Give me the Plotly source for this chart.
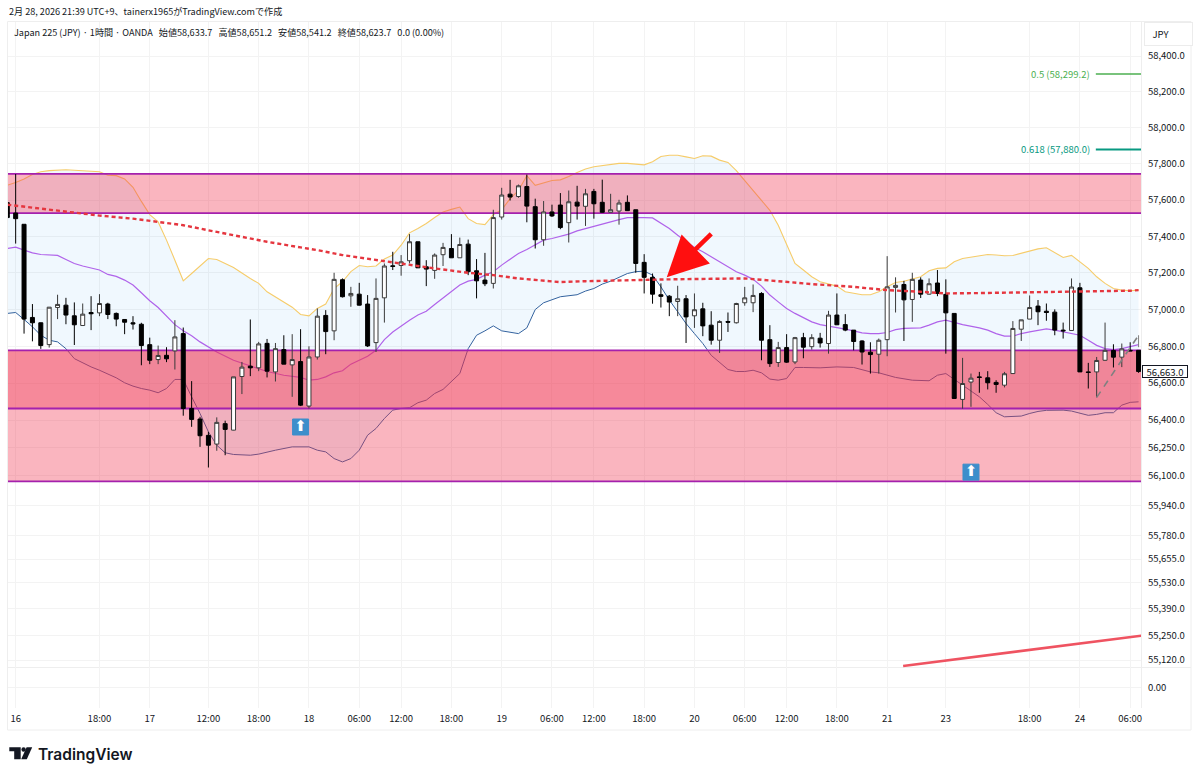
import math
import plotly.graph_objects as go

# ---------- chart values ----------
candle_open = [57586,57529,57467,56957,56928,56809,57011,57024,56966,56913,56984,56982,57030,56979,56946,56928,56920,56809,56728,56751,56775,56869,56463,56406,56318,56271,56381,56346,56636,56692,56683,56816,56661,56782,56699,56717,56476,56742,56968,56884,57163,57075,57084,57030,56820,57064,57239,57241,57267,57371,57234,57214,57300,57334,57283,57358,57212,57161,57143,57507,57633,57620,57675,57564,57382,57535,57573,57476,57589,57566,57648,57588,57533,57540,57588,57547,57258,57176,57081,57073,57044,57059,56966,57004,56915,56833,56935,56928,57037,57037,57088,56836,56712,56793,56715,56847,56798,56844,56815,56970,56918,56888,56829,56768,56757,56836,57121,57137,57055,57161,57084,57145,57083,56979,56512,56606,56634,56629,56604,56589,56652,56893,56948,57019,56991,56986,56888,56886,57119,56661,56661,56724,56777,56741,56778,56778]
candle_high = [57590,57744,57467,57030,56929,57013,57081,57064,57039,57033,57073,57084,57037,56984,56948,56964,56928,56847,56804,56795,56942,56902,56611,56418,56337,56415,56397,56634,56715,56946,56824,56840,56818,56860,56866,56893,56800,57006,56997,57201,57170,57124,57146,57079,57170,57252,57316,57298,57413,57371,57270,57307,57365,57413,57394,57383,57276,57310,57547,57668,57712,57686,57741,57608,57595,57575,57639,57653,57679,57662,57662,57713,57635,57602,57626,57547,57303,57197,57143,57079,57130,57079,57088,57037,56991,56942,56984,57037,57124,57137,57095,56915,56824,56866,56851,56873,56866,56873,56993,57088,56975,56888,56833,56822,56842,57292,57176,57157,57201,57176,57170,57216,57165,56979,56737,56652,56661,56665,56616,56661,56937,56944,57077,57052,57033,57001,56929,57170,57146,56710,56742,56929,56811,56815,56822,56778]
candle_low = [57500,57361,56869,56827,56786,56793,56948,56920,56807,56911,56888,56964,56948,56909,56866,56891,56697,56703,56703,56714,56674,56424,56364,56256,56145,56235,56211,56345,56541,56638,56665,56631,56609,56703,56526,56476,56463,56728,56757,56833,57066,57015,57022,56796,56769,56929,57216,57185,57252,57228,57128,57168,57238,57283,57283,57188,57061,57128,57115,57493,57598,57613,57478,57334,57349,57507,57440,57367,57493,57458,57498,57531,57533,57465,57540,57201,57088,57032,57011,56964,56964,56818,56900,56855,56809,56764,56878,56924,57021,56986,56724,56688,56688,56710,56703,56735,56782,56793,56760,56917,56882,56778,56701,56652,56652,56746,56984,56829,56933,57063,57081,57073,56760,56517,56462,56472,56548,56566,56548,56577,56652,56829,56948,56915,56939,56860,56842,56884,56661,56571,56523,56721,56685,56687,56775,56656]
candle_close = [57504,57498,56948,56928,56804,57013,57028,56970,56917,56975,56977,57033,56973,56948,56931,56922,56804,56724,56750,56732,56851,56463,56404,56316,56265,56388,56350,56634,56687,56683,56813,56665,56787,56703,56728,56481,56742,56964,56880,57165,57070,57088,57024,56802,57061,57238,57236,57261,57371,57228,57221,57298,57340,57283,57356,57207,57157,57141,57504,57628,57617,57679,57567,57382,57535,57513,57449,57591,57567,57635,57580,57533,57547,57584,57542,57252,57176,57084,57072,57041,57059,56960,56999,56911,56833,56935,56931,57033,57064,57077,56833,56706,56793,56714,56847,56795,56847,56818,56970,56917,56888,56826,56769,56755,56833,57124,57132,57053,57165,57084,57141,57088,56982,56517,56598,56627,56631,56602,56593,56651,56897,56944,57011,56988,56984,56888,56884,57123,56661,56658,56723,56778,56741,56786,56775,56663]
candle_index = list(range(-1, 135))

upper_x = [-1,0,1,2,3,4,6,8,10,11,12,13,14,15,16,17,18,19,20,21,22,23,24,26,28,29,30,32,33,34,35,36,37,38,39,40,41,42,43,44,45,46,47,48,49,50,51,52,53,54,55,56,57,58,59,60,61,62,63,64,65,66,67,68,69,70,71,72,73,74,75,76,77,78,79,80,81,82,83,84,85,86,87,88,89,90,91,92,93,94,95,96,97,98,99,100,101,102,103,104,105,106,107,108,109,110,111,112,113,115,116,117,118,119,120,121,122,123,124,125,126,127,128,129,130,131,132,133,134]
upper_y = [57682,57697,57717,57741,57757,57763,57768,57763,57757,57737,57735,57717,57671,57593,57520,57480,57380,57270,57157,57197,57238,57279,57274,57230,57170,57143,57097,57042,57013,56973,56966,57006,57030,57115,57152,57207,57241,57234,57238,57276,57298,57352,57420,57444,57471,57504,57535,57549,57562,57498,57471,57465,57520,57547,57608,57653,57735,57682,57693,57708,57712,57730,57753,57772,57784,57790,57797,57803,57803,57799,57795,57812,57841,57848,57848,57839,57830,57845,57843,57821,57808,57763,57708,57653,57602,57544,57462,57352,57252,57216,57179,57152,57139,57128,57097,57088,57081,57081,57097,57124,57148,57155,57168,57179,57212,57225,57228,57261,57279,57296,57301,57298,57294,57296,57307,57321,57332,57338,57312,57285,57296,57261,57225,57179,57143,57115,57106,57103,57106]

mid_x = [-1,0,1,2,3,4,5,6,7,8,10,11,12,13,14,15,16,17,18,19,20,21,22,23,24,26,28,30,32,34,35,36,37,38,39,40,41,42,43,44,45,46,47,48,49,50,51,52,53,54,55,56,57,58,59,60,61,62,63,64,65,66,67,68,69,70,71,72,73,74,75,76,77,78,79,80,81,82,83,84,85,86,87,88,89,90,91,92,93,94,95,96,97,98,99,100,101,102,103,104,105,106,107,108,109,110,111,112,113,115,116,117,118,119,120,121,122,123,124,125,126,127,128,129,130,131,132,133,134]
mid_y = [57334,57341,57325,57310,57301,57300,57296,57274,57252,57238,57216,57192,57181,57161,57134,57092,57048,57011,56966,56918,56884,56857,56824,56796,56769,56724,56694,56663,56643,56631,56616,56620,56634,56656,56667,56703,56724,56746,56778,56836,56878,56911,56942,56970,56991,57028,57064,57097,57134,57155,57165,57188,57207,57243,57274,57307,57329,57356,57380,57389,57402,57413,57431,57444,57456,57471,57480,57493,57504,57505,57504,57502,57471,57444,57407,57371,57340,57316,57289,57261,57234,57207,57188,57165,57128,57079,57042,57006,56979,56955,56933,56918,56911,56900,56893,56884,56873,56869,56869,56875,56891,56897,56898,56900,56915,56933,56942,56929,56918,56900,56888,56869,56855,56855,56869,56878,56888,56895,56888,56878,56869,56860,56833,56805,56787,56782,56787,56800,56809]

lower_x = [-1,0,1,2,3,4,5,6,7,8,9,10,11,12,13,14,15,16,17,18,19,20,21,22,23,24,25,26,28,29,31,32,33,35,36,37,38,39,40,41,42,43,44,45,46,47,48,49,50,51,52,53,54,55,56,57,58,59,60,61,62,63,64,65,67,68,69,70,71,72,73,74,75,76,77,78,79,80,81,82,83,84,85,86,87,88,89,90,91,92,93,94,96,98,100,102,103,105,107,109,110,111,112,113,115,116,117,118,119,120,121,122,123,125,126,127,128,129,130,131,132,133,134]
lower_y = [56979,56984,56946,56906,56860,56833,56824,56787,56733,56710,56688,56670,56649,56629,56602,56584,56571,56562,56548,56571,56620,56620,56526,56436,56337,56265,56224,56215,56211,56217,56238,56247,56256,56256,56238,56229,56193,56175,56193,56238,56319,56355,56409,56454,56463,56467,56494,56508,56544,56566,56607,56652,56787,56860,56884,56911,56884,56877,56869,56900,57000,57037,57052,57070,57081,57101,57115,57139,57155,57176,57197,57207,57210,57188,57124,57052,56988,56924,56869,56815,56751,56715,56674,56663,56663,56670,56656,56622,56616,56625,56685,56685,56683,56688,56685,56661,56656,56631,56616,56613,56643,56652,56620,56586,56526,56485,56440,56418,56418,56422,56436,56447,56453,56454,56449,56436,56426,56431,56440,56440,56481,56496,56499]

ma_x = [-1,2,7,10,14,17,20,23,26,30,34,36,39,43,46,50,54,57,60,63,65,68,71,78,83,87,91,95,100,103,104,108,111,115,121,127,133,134]
ma_y = [57575,57558,57531,57515,57498,57480,57462,57434,57407,57371,57340,57325,57298,57270,57252,57225,57201,57188,57170,57157,57150,57155,57159,57165,57168,57170,57155,57139,57124,57112,57106,57097,57088,57090,57093,57097,57103,57106]

zone_top = [57745, 56778, 56778]
zone_bottom = [57529, 56070, 56463]
zone_lines = [57745, 57529, 56778, 56463, 56070]

fib_levels = [58299.2, 57880.0]
fib_labels = ["0.5 (58,299.2)", "0.618 (57,880.0)"]
fib_colors = ["#4caf50", "#089981"]
fib_x = [128.9, 134.3]

trend_x = [105.9, 134.3]
trend_y = [55089, 55248]
path_x = [129, 134, 134]
path_y = [56523, 56860, 56795]
signal_x = [34, 114]
signal_y = [56363, 56120]
arrow_tip = (77.7, 57176)

price_ticks = [58400,58200,58000,57800,57600,57400,57200,57000,56800,56600,56400,56250,56100,55940,55780,55655,55530,55390,55250,55120,54973]
price_labels = ["58,400.0","58,200.0","58,000.0","57,800.0","57,600.0","57,400.0","57,200.0","57,000.0","56,800.0","56,600.0","56,400.0","56,250.0","56,100.0","55,940.0","55,780.0","55,655.0","55,530.0","55,390.0","55,250.0","55,120.0","0.00"]
time_ticks = [0,10,16,23,29,35,41,46,52,58,64,69,75,81,87,92,98,104,111,121,127,133]
time_labels = ["16","18:00","17","12:00","18:00","18","06:00","12:00","18:00","19","06:00","12:00","18:00","20","06:00","12:00","18:00","21","23","18:00","24","06:00"]
last_price = 56663.0

# ---------- layout constants ----------
W, H = 1200, 777
L, R, T, B = 8, 1141, 22, 708
x_range = [-0.915, 134.29]
y_range = [math.log10(54867.6), math.log10(58590.3)]
FONT = "Noto Sans CJK JP, Noto Sans, sans-serif"
TEXT = "#131722"
GRID = "#f3f3f3"
ZONE_RGB = "240,50,78"

def px(x):
    return (x - L) / (R - L)

def py(y):
    return 1 - (y - T) / (B - T)

fig = go.Figure()
span = [-3, 137]

# base layer: bands then zones
fig.add_trace(go.Scatter(x=upper_x, y=upper_y, mode="lines", line=dict(color="#f6cc6a", width=1.1), hoverinfo="skip"))
fig.add_trace(go.Scatter(x=lower_x, y=lower_y, mode="lines", line=dict(color="#34639f", width=1),
                         fill="tonexty", fillcolor="rgba(33,150,243,0.065)", hoverinfo="skip"))
fig.add_trace(go.Scatter(x=mid_x, y=mid_y, mode="lines", line=dict(color="#b063ea", width=1.2), hoverinfo="skip"))
for top, bot, alpha in zip(zone_top, zone_bottom, [0.36, 0.36, 0.33]):
    fig.add_trace(go.Scatter(x=[span[0], span[1], span[1], span[0], span[0]], y=[top, top, bot, bot, top],
                             mode="lines", line=dict(width=0), fill="toself",
                             fillcolor=f"rgba({ZONE_RGB},{alpha})", hoverinfo="skip"))
for level in zone_lines:
    fig.add_trace(go.Scatter(x=span, y=[level, level], mode="lines", line=dict(color="#a421ad", width=1.8), hoverinfo="skip"))

# overlay layer
fig.add_trace(go.Candlestick(x=candle_index, open=candle_open, high=candle_high, low=candle_low, close=candle_close,
                             xaxis="x2", yaxis="y2", whiskerwidth=0,
                             increasing=dict(fillcolor="#ffffff", line=dict(color="#3a3a3a", width=1)),
                             decreasing=dict(fillcolor="#000000", line=dict(color="#000000", width=1)),
                             hoverinfo="skip"))
fig.add_trace(go.Scatter(x=ma_x, y=ma_y, mode="lines", xaxis="x2", yaxis="y2",
                         line=dict(color="#e5363f", width=2.4, dash="4px,3px"), hoverinfo="skip"))
fig.add_trace(go.Scatter(x=path_x[:2], y=path_y[:2], mode="lines", xaxis="x2", yaxis="y2",
                         line=dict(color="#808080", width=1.6, dash="7px,6px"), hoverinfo="skip"))
fig.add_trace(go.Scatter(x=path_x[1:], y=path_y[1:], mode="lines", xaxis="x2", yaxis="y2",
                         line=dict(color="#808080", width=1), hoverinfo="skip"))
fig.add_trace(go.Scatter(x=trend_x, y=trend_y, mode="lines", xaxis="x2", yaxis="y2",
                         line=dict(color="#ef5361", width=2.5), hoverinfo="skip"))
for level, color, width in zip(fib_levels, fib_colors, [1.5, 2]):
    fig.add_trace(go.Scatter(x=fib_x, y=[level, level], mode="lines", xaxis="x2", yaxis="y2",
                             line=dict(color=color, width=width), hoverinfo="skip"))
fig.add_trace(go.Scatter(x=signal_x, y=signal_y, mode="markers+text", xaxis="x2", yaxis="y2",
                         marker=dict(symbol="square", size=16, color="#3d8ecb", line=dict(color="#3d8ecb", width=1)),
                         text=["⬆", "⬆"], textposition="middle center",
                         textfont=dict(family="DejaVu Sans", size=15, color="#ffffff"), hoverinfo="skip"))

gap = "&nbsp;&nbsp;&nbsp;"
annotations = [
    dict(xref="paper", yref="paper", x=px(7), y=py(11), xanchor="left", yanchor="middle", showarrow=False,
         text="2月 28, 2026 21:39 UTC+9、tainerx1965がTradingView.comで作成", font=dict(family=FONT, size=9.1, color=TEXT)),
    dict(xref="paper", yref="paper", x=px(12), y=py(32), xanchor="left", yanchor="middle", showarrow=False,
         text=f"Japan 225 (JPY) · 1時間 · OANDA{gap}始値58,633.7{gap}高値58,651.2{gap}安値58,541.2{gap}終値58,623.7{gap}0.0 (0.00%)",
         font=dict(family=FONT, size=9.1, color=TEXT)),
    dict(xref="paper", yref="paper", x=px(1144), y=py(34), xanchor="left", yanchor="middle", showarrow=False,
         width=45, height=20, align="left", text="&nbsp;&nbsp;&nbsp;JPY", bgcolor="#ffffff", bordercolor="#ececec", borderwidth=1,
         font=dict(family=FONT, size=9.5, color=TEXT)),
    dict(xref="paper", yref="y", x=px(1142), y=math.log10(last_price), xanchor="left", yanchor="middle", showarrow=False,
         width=44, height=11, text=f"{last_price:,.1f}", bgcolor="#ffffff", bordercolor=TEXT, borderwidth=1, borderpad=0,
         font=dict(family=FONT, size=9.5, color=TEXT)),
    dict(xref="paper", yref="paper", x=px(36), y=py(754), xanchor="left", yanchor="middle", showarrow=False,
         text="TradingView", font=dict(family="Inter, Noto Sans, sans-serif", size=15.5, color="#131722", weight=600)),
    dict(xref="x2", yref="y2", x=arrow_tip[0], y=math.log10(arrow_tip[1]), ax=46, ay=-45, axref="pixel", ayref="pixel",
         showarrow=True, arrowhead=2, arrowsize=1.8, arrowwidth=4.5, arrowcolor="#ff0f0f", text=""),
]
for level, label, color in zip(fib_levels, fib_labels, fib_colors):
    annotations.append(dict(xref="paper", yref="y", x=px(1092), y=math.log10(level), xanchor="right", yanchor="middle",
                            showarrow=False, text=label, font=dict(family=FONT, size=9.5, color=color)))

def frame_line(x0, y0, x1, y1, color="#eeeeee"):
    return dict(type="line", xref="paper", yref="paper", x0=px(x0), y0=py(y0), x1=px(x1), y1=py(y1),
                line=dict(color=color, width=1), layer="below")

shapes = [
    frame_line(7.5, 21.5, 1191, 21.5), frame_line(7.5, 730, 1191, 730), frame_line(7.5, 21.5, 7.5, 730),
    frame_line(1191, 21.5, 1191, 730), frame_line(1141.5, 21.5, 1141.5, 708), frame_line(7.5, 667.5, 1191, 667.5),
    # TradingView logo
    dict(type="path", xref="paper", yref="paper", fillcolor="#131722", line=dict(width=0),
         path=f"M{px(9.3)},{py(747.3)} L{px(20.7)},{py(747.3)} L{px(20.7)},{py(759.3)} L{px(14.2)},{py(759.3)} L{px(14.2)},{py(751.2)} L{px(9.3)},{py(751.2)} Z"),
    dict(type="circle", xref="paper", yref="paper", fillcolor="#131722", line=dict(width=0),
         x0=px(21.4), x1=px(25.8), y0=py(747.3), y1=py(751.7)),
    dict(type="path", xref="paper", yref="paper", fillcolor="#131722", line=dict(width=0),
         path=f"M{px(26.6)},{py(747.3)} L{px(32.2)},{py(747.3)} L{px(26.8)},{py(759.3)} L{px(21.2)},{py(759.3)} Z"),
]

fig.update_layout(
    width=W, height=H, autosize=False, margin=dict(l=L, r=W - R, t=T, b=H - B),
    paper_bgcolor="#ffffff", plot_bgcolor="#ffffff", showlegend=False, boxgap=0.32,
    xaxis=dict(range=x_range, tickmode="array", tickvals=time_ticks, ticktext=time_labels, showgrid=True, gridcolor=GRID,
               gridwidth=1, zeroline=False, showline=False, ticks="outside", ticklen=2, tickcolor="rgba(0,0,0,0)",
               tickfont=dict(family=FONT, size=9.5, color=TEXT), tickangle=0),
    yaxis=dict(type="log", range=y_range, side="right", tickmode="array", tickvals=price_ticks, ticktext=price_labels,
               showgrid=True, gridcolor=GRID, gridwidth=1, zeroline=False, showline=False, ticks="outside", ticklen=4,
               tickcolor="rgba(0,0,0,0)", tickfont=dict(family=FONT, size=9.5, color=TEXT)),
    xaxis2=dict(overlaying="x", anchor="y2", range=x_range, visible=False, rangeslider=dict(visible=False)),
    yaxis2=dict(overlaying="y", anchor="x2", type="log", range=y_range, visible=False),
    annotations=annotations, shapes=shapes,
)

fig.write_html("out.html", post_script="document.body.style.margin='0';document.body.style.overflow='hidden';",
               config={"displayModeBar": False})
